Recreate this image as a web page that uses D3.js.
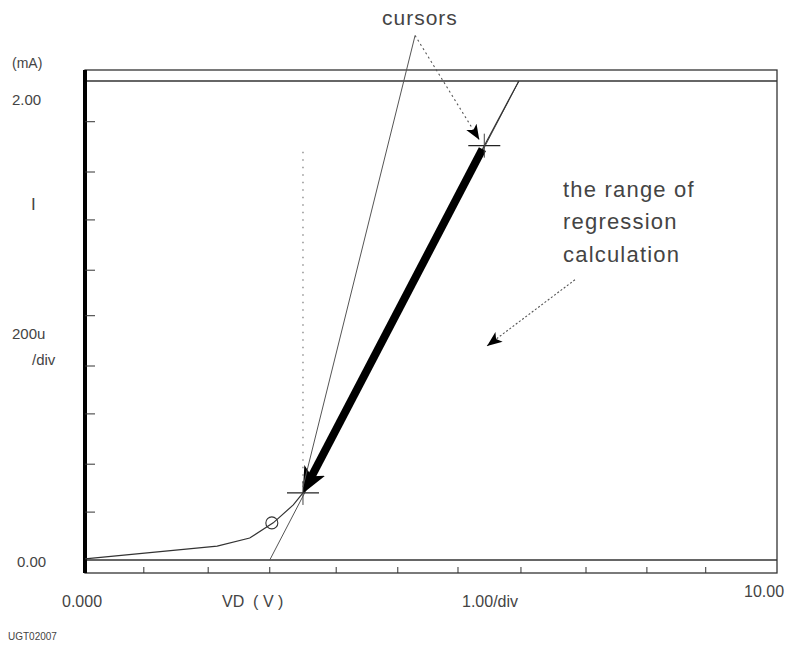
<!DOCTYPE html>
<html>
<head>
<meta charset="utf-8">
<script src="https://cdn.jsdelivr.net/npm/d3@7"></script>
<style>
    body { margin: 0; background: #fff; }
    text { font-family: "Liberation Sans", Arial, sans-serif; fill: #444; }
</style>
</head>
<body>
<div id="chart"></div>
<script>
// measured diode curve, VD (V) vs ID (mA)
const curveV = [0.00, 1.91, 2.38, 2.72, 3.01, 3.15, 5.77, 6.27];
const curveI = [0.005, 0.058, 0.092, 0.155, 0.23, 0.28, 1.73, 2.00];

// the two cursors (start / end of regression range)
const cursorV = [3.15, 5.77];
const cursorI = [0.28, 1.73];

// regression line end points
const regV = [2.67, 6.27];
const regI = [0.00, 2.00];

// circle marker on the curve
const markerV = [2.70];
const markerI = [0.155];

// minor tick positions as they sit on the scan
const xTicks = [0.85, 1.78, 2.67, 3.63, 4.52, 5.39, 6.30, 7.24, 8.12, 8.97];
const yTicks = [0.20, 0.40, 0.61, 0.81, 1.02, 1.21, 1.42, 1.62, 1.83];

// annotation anchor points (data units)
const cursorsApex = [4.77, 2.19];
const rangeArrow = [[7.08, 1.17], [5.81, 0.894]];

let width = 792, height = 647;
let frame = {left: 85, right: 777, top: 70, bottom: 573};

let svg = d3.select("#chart").append("svg")
    .attr("width", width)
    .attr("height", height);

let x = d3.scaleLinear().domain([0, 10]).range([frame.left, frame.right]);
let y = d3.scaleLinear().domain([0, 2]).range([560, 81]);

// arrow heads
let defs = svg.append("defs");
defs.append("marker")
    .attr("id", "bigHead")
    .attr("markerUnits", "userSpaceOnUse")
    .attr("viewBox", "0 0 20 20")
    .attr("refX", 8).attr("refY", 10)
    .attr("markerWidth", 26).attr("markerHeight", 26)
    .attr("orient", "auto")
    .append("path").attr("d", "M0,1 L20,10 L0,19 L5,10 Z").attr("fill", "#000");
defs.append("marker")
    .attr("id", "smallHead")
    .attr("markerUnits", "userSpaceOnUse")
    .attr("viewBox", "0 0 20 20")
    .attr("refX", 20).attr("refY", 10)
    .attr("markerWidth", 15).attr("markerHeight", 15)
    .attr("orient", "auto")
    .append("path").attr("d", "M0,2 L20,10 L0,18 L5,10 Z").attr("fill", "#000");

// frame
svg.append("rect")
    .attr("x", frame.left).attr("y", frame.top)
    .attr("width", frame.right - frame.left)
    .attr("height", frame.bottom - frame.top)
    .attr("fill", "none").attr("stroke", "#333").attr("stroke-width", 1.3);

// 0.00 and 2.00 lines
svg.selectAll(".hline")
    .data([0, 2])
    .enter().append("line")
    .attr("class", "hline")
    .attr("x1", frame.left).attr("x2", frame.right)
    .attr("y1", d => y(d)).attr("y2", d => y(d))
    .attr("stroke", "#333").attr("stroke-width", 1.3);

// thick left axis
svg.append("line")
    .attr("x1", frame.left).attr("x2", frame.left)
    .attr("y1", frame.top).attr("y2", frame.bottom)
    .attr("stroke", "#000").attr("stroke-width", 4);

// ticks
svg.selectAll(".ytick")
    .data(yTicks)
    .enter().append("line")
    .attr("class", "ytick")
    .attr("x1", frame.left).attr("x2", frame.left + 10)
    .attr("y1", d => y(d)).attr("y2", d => y(d))
    .attr("stroke", "#333").attr("stroke-width", 1);

svg.selectAll(".xtick")
    .data(xTicks)
    .enter().append("line")
    .attr("class", "xtick")
    .attr("x1", d => x(d)).attr("x2", d => x(d))
    .attr("y1", frame.bottom).attr("y2", frame.bottom - 6)
    .attr("stroke", "#333").attr("stroke-width", 1);

// dotted cursor line
svg.append("line")
    .attr("x1", x(cursorV[0])).attr("x2", x(cursorV[0]))
    .attr("y1", y(cursorI[1]) + 6).attr("y2", y(cursorI[0]) - 4)
    .attr("stroke", "#777").attr("stroke-width", 1.2)
    .attr("stroke-dasharray", "1.5,6");

// regression line
svg.append("line")
    .attr("x1", x(regV[0])).attr("y1", y(regI[0]))
    .attr("x2", x(regV[1])).attr("y2", y(regI[1]))
    .attr("stroke", "#555").attr("stroke-width", 1);

// measured curve
let line = d3.line().x(d => x(d[0])).y(d => y(d[1]));
svg.append("path")
    .datum(d3.zip(curveV, curveI))
    .attr("d", line)
    .attr("fill", "none").attr("stroke", "#333").attr("stroke-width", 1.2);

// circle marker
svg.selectAll(".marker")
    .data(d3.zip(markerV, markerI))
    .enter().append("circle")
    .attr("class", "marker")
    .attr("cx", d => x(d[0])).attr("cy", d => y(d[1]))
    .attr("r", 6)
    .attr("fill", "none").attr("stroke", "#333").attr("stroke-width", 1.1);

// thick range segment with arrow head at the lower cursor
let p1 = [x(cursorV[1]), y(cursorI[1])];
let p0 = [x(cursorV[0]), y(cursorI[0])];
let len = Math.hypot(p1[0] - p0[0], p1[1] - p0[1]);
let ux = (p0[0] - p1[0]) / len, uy = (p0[1] - p1[1]) / len;
svg.append("line")
    .attr("x1", p1[0] + ux * 4).attr("y1", p1[1] + uy * 4)
    .attr("x2", p0[0] - ux * 15).attr("y2", p0[1] - uy * 15)
    .attr("stroke", "#000").attr("stroke-width", 8)
    .attr("marker-end", "url(#bigHead)");

// cursor crosshairs
cursorV.forEach((v, i) => {
    let cx = x(v), cy = y(cursorI[i]);
    svg.append("line")
        .attr("x1", cx - 16).attr("x2", cx + 16)
        .attr("y1", cy).attr("y2", cy)
        .attr("stroke", "#222").attr("stroke-width", 1.3);
    svg.append("line")
        .attr("x1", cx).attr("x2", cx)
        .attr("y1", cy - 12).attr("y2", cy + 12)
        .attr("stroke", "#444").attr("stroke-width", 1);
});

// "cursors" pointers
svg.append("line")
    .attr("x1", x(cursorsApex[0])).attr("y1", y(cursorsApex[1]))
    .attr("x2", p0[0]).attr("y2", p0[1] - 6)
    .attr("stroke", "#555").attr("stroke-width", 1);
svg.append("line")
    .attr("x1", x(cursorsApex[0])).attr("y1", y(cursorsApex[1]))
    .attr("x2", p1[0] - 5).attr("y2", p1[1] - 6)
    .attr("stroke", "#555").attr("stroke-width", 1.1)
    .attr("stroke-dasharray", "2,3")
    .attr("marker-end", "url(#smallHead)");

// range pointer
svg.append("line")
    .attr("x1", x(rangeArrow[0][0])).attr("y1", y(rangeArrow[0][1]))
    .attr("x2", x(rangeArrow[1][0])).attr("y2", y(rangeArrow[1][1]))
    .attr("stroke", "#555").attr("stroke-width", 1.1)
    .attr("stroke-dasharray", "2,2")
    .attr("marker-end", "url(#smallHead)");

// texts
let labels = [
    {t: "(mA)", x: 12, y: 68, s: 14},
    {t: "2.00", x: 12, y: 105, s: 15},
    {t: "I", x: 31, y: 210, s: 17},
    {t: "200u", x: 12, y: 339, s: 15},
    {t: "/div", x: 32, y: 365, s: 15},
    {t: "0.00", x: 17, y: 567, s: 15},
    {t: "0.000", x: 62, y: 607, s: 16},
    {t: "VD  ( V )", x: 222, y: 607, s: 16},
    {t: "1.00/div", x: 462, y: 607, s: 16},
    {t: "10.00", x: 744, y: 597, s: 16},
    {t: "UGT02007", x: 8, y: 640, s: 10},
    {t: "cursors", x: 382, y: 25, s: 21, ls: 1},
    {t: "the range of", x: 563, y: 197, s: 22, ls: 1.2},
    {t: "regression", x: 563, y: 229, s: 22, ls: 1.2},
    {t: "calculation", x: 563, y: 262, s: 22, ls: 1.2}
];
svg.selectAll(".label")
    .data(labels)
    .enter().append("text")
    .attr("class", "label")
    .attr("x", d => d.x).attr("y", d => d.y)
    .attr("font-size", d => d.s + "px")
    .attr("letter-spacing", d => d.ls || 0)
    .style("white-space", "pre")
    .text(d => d.t);
</script>
</body>
</html>
